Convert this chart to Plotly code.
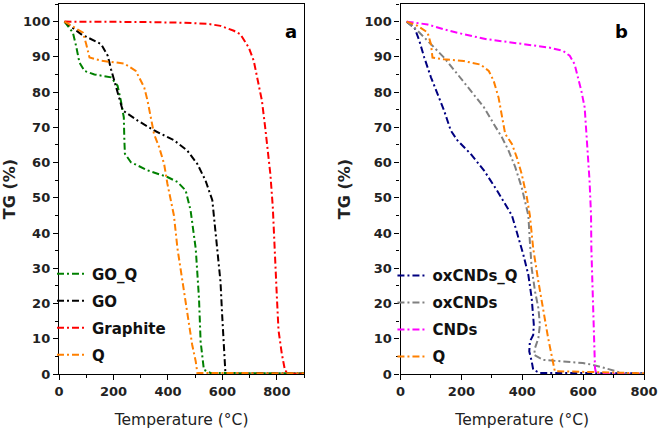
import plotly.graph_objects as go

# ---------------- Panel a ----------------
goq_T = [20, 51, 63, 75, 94, 130, 191, 215, 227, 238, 240, 242, 264, 325, 398, 435, 465, 483, 502, 514, 520, 528, 532, 556, 650, 750, 900]
goq_TG = [100, 96.9, 93, 88.4, 86, 85, 84.2, 81.8, 77.6, 72.8, 66.3, 62.5, 60.1, 57.8, 55.9, 54.5, 52.1, 46.5, 35.6, 21.5, 9.2, 4.5, 1.2, 0.3, 0.2, 0.2, 0.2]

go_T = [20, 82, 155, 179, 191, 209, 222, 234, 289, 350, 423, 471, 508, 538, 563, 569, 581, 593, 599, 605, 607, 611, 900]
go_TG = [100, 96.4, 93.6, 90.3, 86.5, 81.3, 77.6, 74.8, 71.9, 69.1, 66.3, 63.4, 59.6, 54.9, 49.3, 45, 35.6, 26.2, 16.8, 7.4, 3.6, 0.3, 0.2]

gr_T = [20, 150, 300, 450, 544, 593, 642, 666, 697, 715, 733, 745, 757, 769, 776, 785, 788, 794, 800, 806, 818, 830, 849, 900]
gr_TG = [100, 100, 99.9, 99.7, 99.4, 98.8, 97.4, 96.4, 92.6, 88.9, 82.3, 77.6, 70, 62.5, 56.8, 47.4, 41.2, 31.2, 21.8, 12.4, 5.8, 0.9, 0.1, 0.1]

qa_T = [20, 88, 100, 112, 155, 240, 282, 313, 325, 337, 349, 368, 386, 398, 416, 422, 435, 453, 471, 489, 502, 508, 900]
qa_TG = [100, 96.9, 93.6, 89.8, 88.9, 88.1, 86, 81.3, 77.6, 72.8, 68.1, 64.3, 59.6, 54, 46.4, 45, 35.6, 26.2, 16.8, 8.3, 3.6, 0.3, 0.2]

# ---------------- Panel b ----------------
oxq_T = [20, 46, 62, 78, 100, 122, 143, 165, 187, 230, 274, 317, 355, 366, 382, 404, 420, 431, 438, 436, 425, 423, 431, 436, 458, 600, 800]
oxq_TG = [100, 98.3, 94.5, 89.8, 84.2, 79.5, 74.8, 69.1, 66.3, 62.5, 57.8, 52.1, 46.4, 45, 40.3, 33.7, 28.1, 21.5, 14, 11.1, 9.2, 6.4, 3.6, 1.2, 0.3, 0.2, 0.2]

ox_T = [20, 56, 100, 143, 187, 230, 274, 306, 333, 355, 377, 398, 415, 420, 425, 431, 442, 453, 458, 453, 442, 439, 469, 534, 599, 632, 675, 708, 729, 800]
ox_TG = [100, 97.4, 93.6, 89.8, 85.1, 80.4, 75.7, 71, 67.2, 63.4, 58.7, 53, 46.4, 45, 37.5, 30, 23.4, 18.7, 14, 10.2, 7.4, 5.4, 4.0, 3.6, 3.1, 2.6, 1.7, 0.8, 0.1, 0.1]

cnd_T = [20, 89, 143, 208, 284, 360, 425, 491, 534, 556, 572, 583, 594, 605, 610, 615, 621, 626, 627, 632, 637, 639, 643, 800]
cnd_TG = [100, 99.2, 97.8, 96.4, 95, 94.1, 93.4, 92.6, 91.7, 90.3, 87.9, 84.2, 80.4, 75.7, 69.1, 62.5, 55, 45, 35.6, 21.5, 9.2, 1.7, 0.1, 0.1]

qb_T = [20, 56, 89, 100, 105, 143, 208, 263, 290, 306, 322, 333, 344, 366, 382, 398, 415, 425, 436, 453, 469, 485, 496, 507, 800]
qb_TG = [100, 98.8, 96.9, 93.6, 89.8, 89.3, 88.8, 87.8, 86, 83.2, 78.5, 72.8, 68.1, 65.3, 61.5, 56.8, 50.2, 45, 35.6, 26.2, 17.7, 10.2, 5.5, 0.8, 0.2]

xticks_a = [0, 200, 400, 600, 800]
xticks_b = [0, 200, 400, 600, 800]
yticks = [0, 10, 20, 30, 40, 50, 60, 70, 80, 90, 100]

DASH = "7px,3px,2px,3px"
LW = 2

fig = go.Figure()

def add(x, y, name, color, xa, ya, leg, grp):
    fig.add_trace(go.Scatter(x=x, y=y, mode="lines", name=name,
                             line=dict(color=color, width=LW, dash=DASH),
                             xaxis=xa, yaxis=ya, legend=leg, legendgroup=grp))

add(goq_T, goq_TG, "GO_Q", "#008000", "x", "y", "legend", "a1")
add(go_T, go_TG, "GO", "#000000", "x", "y", "legend", "a2")
add(gr_T, gr_TG, "Graphite", "#FF0000", "x", "y", "legend", "a3")
add(qa_T, qa_TG, "Q", "#FF8000", "x", "y", "legend", "a4")

add(oxq_T, oxq_TG, "oxCNDs_Q", "#000080", "x2", "y2", "legend2", "b1")
add(ox_T, ox_TG, "oxCNDs", "#808080", "x2", "y2", "legend2", "b2")
add(cnd_T, cnd_TG, "CNDs", "#FF00FF", "x2", "y2", "legend2", "b3")
add(qb_T, qb_TG, "Q", "#FF8000", "x2", "y2", "legend2", "b4")

tickfont = dict(family="DejaVu Sans", size=13, color="#222222", weight="bold")
titlefont_x = dict(family="DejaVu Sans", size=15.5, color="#222222")
titlefont_y = dict(family="DejaVu Sans", size=16, color="#222222", weight="bold")

def xaxis(domain, rng, ticks, anchor):
    return dict(domain=domain, range=rng, tickvals=ticks, ticks="outside", ticklen=5,
                tickwidth=1.2, tickcolor="black", showline=True, linecolor="black",
                linewidth=1.4, mirror=True, showgrid=False, zeroline=False,
                tickfont=tickfont, anchor=anchor,
                minor=dict(dtick=100, ticks="outside", ticklen=3, tickcolor="black", showgrid=False),
                title=dict(text="Temperature (°C)", font=titlefont_x, standoff=16))

def yaxis(anchor):
    return dict(domain=[0, 1], range=[0, 105], tickvals=yticks, ticks="outside", ticklen=5,
                tickwidth=1.2, tickcolor="black", showline=True, linecolor="black",
                linewidth=1.4, mirror=True, showgrid=False, zeroline=False,
                tickfont=tickfont, anchor=anchor,
                minor=dict(dtick=5, ticks="outside", ticklen=3, tickcolor="black", showgrid=False),
                title=dict(text="TG (%)", font=titlefont_y, standoff=9))

legfont = dict(family="DejaVu Sans", size=15, color="#111111", weight="bold")

fig.update_layout(
    width=661, height=431,
    margin=dict(l=54, r=16, t=3, b=57),
    paper_bgcolor="white", plot_bgcolor="white",
    xaxis=xaxis([0, 0.419], [0, 900], xticks_a, "y"),
    yaxis=yaxis("x"),
    xaxis2=xaxis([0.5838, 1], [0, 800], xticks_b, "y2"),
    yaxis2=yaxis("x2"),
    legend=dict(x=-0.012, y=0.315, xanchor="left", yanchor="top", font=legfont,
                bgcolor="rgba(0,0,0,0)", tracegroupgap=4.5),
    legend2=dict(x=0.57, y=0.31, xanchor="left", yanchor="top", font=legfont,
                 bgcolor="rgba(0,0,0,0)", tracegroupgap=4.5),
    showlegend=True,
    annotations=[
        dict(text="a", x=0.396, y=0.96, xref="paper", yref="paper", showarrow=False,
             font=dict(family="DejaVu Sans", size=18, color="black", weight="bold")),
        dict(text="b", x=0.976, y=0.96, xref="paper", yref="paper", showarrow=False,
             font=dict(family="DejaVu Sans", size=18, color="black", weight="bold")),
    ],
)

fig.write_html("out.html", config={"displayModeBar": False},
               post_script="document.body.style.margin='0';")
